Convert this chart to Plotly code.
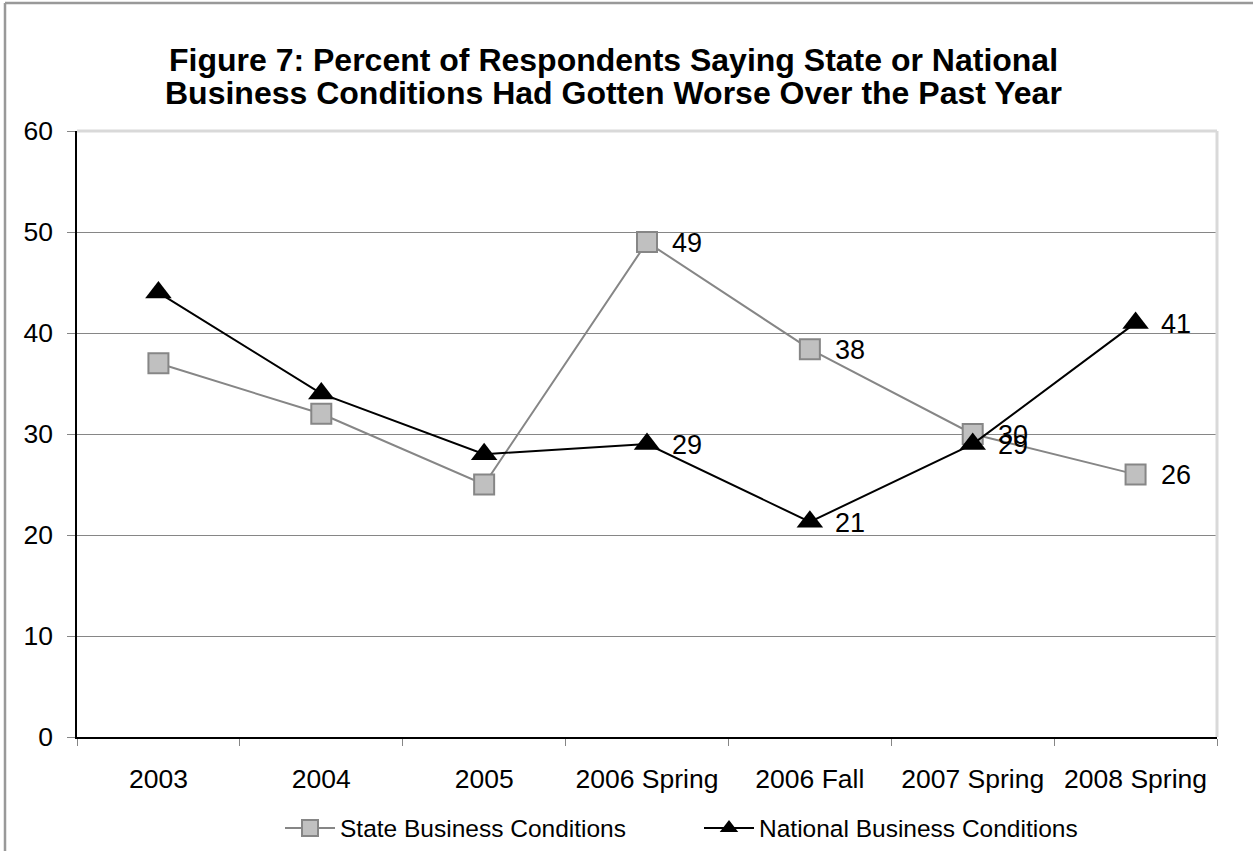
import plotly.graph_objects as go

categories = ["2003", "2004", "2005", "2006 Spring", "2006 Fall", "2007 Spring", "2008 Spring"]
state_values = [37, 32, 25, 49, 38.4, 30, 26]
national_values = [44, 34, 28, 29, 21.3, 29, 41]
y_ticks = [0, 10, 20, 30, 40, 50, 60]
title_lines = [
    "Figure 7: Percent of Respondents Saying State or National",
    "Business Conditions Had Gotten Worse Over the Past Year",
]

FONT = "Arial, Liberation Sans, sans-serif"

fig = go.Figure()
fig.add_trace(go.Scatter(
    x=categories, y=state_values, name="State Business Conditions",
    mode="lines+markers",
    line=dict(color="#868686", width=2),
    marker=dict(symbol="square", size=20, color="#c0c0c0", line=dict(color="#868686", width=2)),
))
fig.add_trace(go.Scatter(
    x=categories, y=national_values, name="National Business Conditions",
    mode="lines+markers",
    line=dict(color="#000000", width=2),
    marker=dict(symbol="triangle-up", size=23, color="#000000", line=dict(color="#000000", width=0)),
))

annotations = []
for series in (state_values, national_values):
    for c, v in zip(categories, series):
        annotations.append(dict(
            x=c, y=v, xref="x", yref="y", text=f"{round(v)}", showarrow=False,
            xanchor="left", yanchor="middle", xshift=23, yshift=-1,
            font=dict(family=FONT, size=27, color="#000000"),
        ))

# title, two lines
for line_text, py in zip(title_lines, (60, 93)):
    annotations.append(dict(
        text=f"<b>{line_text}</b>", showarrow=False,
        xref="paper", yref="paper",
        x=(613 - 77) / 1140, xanchor="center",
        y=(737 - py) / 606, yanchor="middle",
        font=dict(family=FONT, size=32, color="#000000"),
    ))

fig.update_layout(
    width=1253, height=851,
    margin=dict(l=77, r=36, t=131, b=114, autoexpand=False),
    paper_bgcolor="#ffffff", plot_bgcolor="#ffffff",
    font=dict(family=FONT, color="#000000"),
    showlegend=True,
    legend=dict(
        orientation="h", x=(280 - 77) / 1140, xanchor="left",
        yref="container", y=(851 - 828) / 851, yanchor="middle",
        font=dict(family=FONT, size=24.5, color="#000000"),
        itemwidth=50,
        entrywidth=354, entrywidthmode="pixels",
        bgcolor="rgba(0,0,0,0)",
    ),
    annotations=annotations,
    xaxis=dict(
        type="category", range=[-0.5, 6.5], automargin=False,
        showgrid=False, zeroline=False,
        showline=True, linecolor="#000000", linewidth=1.5,
        ticks="outside", tickson="boundaries", ticklen=7, tickcolor="#868686", tickwidth=1,
        tickfont=dict(family=FONT, size=26.5, color="#000000"),
        ticklabelstandoff=17,
    ),
    yaxis=dict(
        range=[0, 60], tickvals=y_ticks, automargin=False,
        showgrid=True, gridcolor="#868686", gridwidth=1,
        zeroline=False,
        showline=True, linecolor="#000000", linewidth=1.5,
        ticks="outside", ticklen=8, tickcolor="#868686", tickwidth=1,
        tickfont=dict(family=FONT, size=26.5, color="#000000"),
        ticklabelstandoff=9,
    ),
    shapes=[
        dict(type="line", xref="paper", yref="paper", x0=0, x1=1, y0=1, y1=1,
             line=dict(color="#d9d9d9", width=3), layer="above"),
        dict(type="line", xref="paper", yref="paper", x0=1, x1=1, y0=0, y1=1,
             line=dict(color="#d9d9d9", width=3), layer="above"),
        dict(type="line", xref="paper", yref="paper",
             x0=(5 - 77) / 1140, x1=(5 - 77) / 1140, y0=-0.3, y1=(737 - 3) / 606,
             line=dict(color="#999999", width=2.5), layer="above"),
        dict(type="line", xref="paper", yref="paper",
             x0=(5 - 77) / 1140, x1=1.2, y0=(737 - 3) / 606, y1=(737 - 3) / 606,
             line=dict(color="#999999", width=2.5), layer="above"),
    ],
)

fig.write_html("out.html", config={"displayModeBar": False},
               post_script="document.body.style.margin='0px';")
